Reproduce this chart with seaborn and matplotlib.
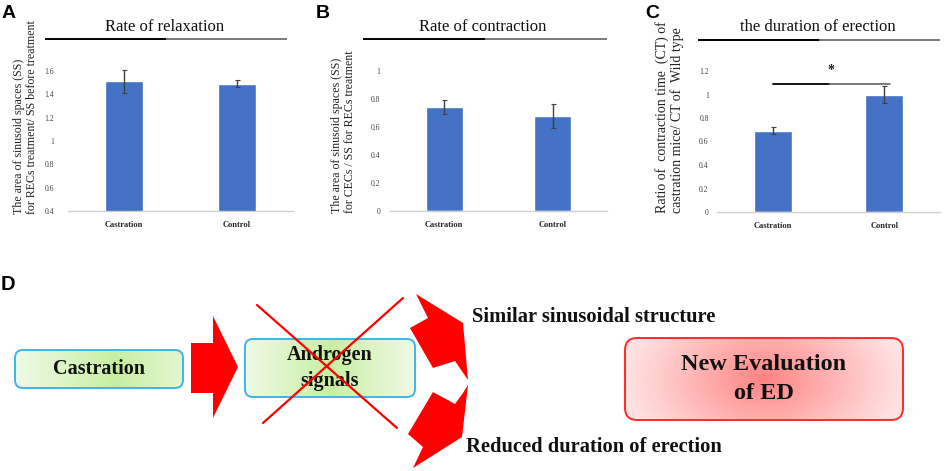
import numpy as np
import pandas as pd
import matplotlib
matplotlib.use("Agg")
import matplotlib.pyplot as plt
import seaborn as sns
from matplotlib.patches import FancyBboxPatch, Polygon

# ---------------- data ----------------
groups = ["Castration", "Control"]

relax_mean = [1.51, 1.49]
relax_err = [0.10, 0.03]

contr_mean = [0.74, 0.68]
contr_err = [0.05, 0.085]

dur_mean = [0.69, 1.00]
dur_err = [0.03, 0.07]

titles = ["Rate of relaxation", "Rate of contraction", "the duration of erection"]
ylabels = [
    "The area of sinusoid spaces (SS)\nfor RECs treatment/ SS before treatment",
    "The area of sinusoid spaces (SS)\nfor CECs / SS for RECs treatment",
    "Ratio of  contraction time  (CT) of\ncastration mice/ CT of  Wild type",
]
yticks_a = [0.4, 0.6, 0.8, 1.0, 1.2, 1.4, 1.6]
yticklabels_a = ["0.4", "0.6", "0.8", "1", "1.2", "1.4", "1.6"]
yticks_b = [0, 0.2, 0.4, 0.6, 0.8, 1.0]
yticklabels_b = ["0", "0.2", "0.4", "0.6", "0.8", "1"]
yticks_c = [0, 0.2, 0.4, 0.6, 0.8, 1.0, 1.2]
yticklabels_c = ["0", "0.2", "0.4", "0.6", "0.8", "1", "1.2"]
sig_level = 1.09
sig_star = 1.20

flow_left = "Castration"
flow_mid = "Androgen\nsignals"
flow_up = "Similar sinusoidal structure"
flow_down = "Reduced duration of erection"
flow_right = "New Evaluation\nof ED"

# ---------------- style ----------------
sns.set_theme(style="white")
plt.rcParams["font.family"] = ["Liberation Serif", "DejaVu Serif"]

BLUE = "#4472C4"
W, H = 948, 471
fig = plt.figure(figsize=(W / 100, H / 100), dpi=100)


def px_axes(x0, x1, ytop, ybot):
    return fig.add_axes([x0 / W, (H - ybot) / H, (x1 - x0) / W, (ybot - ytop) / H])


specs = [
    dict(box=(68, 293, 71, 211), mean=relax_mean, err=relax_err, ylim=(0.4, 1.6),
         ticks=yticks_a, tlabels=yticklabels_a, pad=10, ylab_xy=(-0.19, 0.67), ylab_fs=8.6,
         title_xy=(0.431, 1.314), line=(-0.102, 0.973, 1.229)),
    dict(box=(390, 607, 71, 211), mean=contr_mean, err=contr_err, ylim=(0.0, 1.0),
         ticks=yticks_b, tlabels=yticklabels_b, pad=7, ylab_xy=(-0.215, 0.565), ylab_fs=8.6,
         title_xy=(0.429, 1.314), line=(-0.124, 1.0, 1.229)),
    dict(box=(717, 940, 71, 212), mean=dur_mean, err=dur_err, ylim=(0.0, 1.2),
         ticks=yticks_c, tlabels=yticklabels_c, pad=6, ylab_xy=(-0.213, 0.675), ylab_fs=10,
         title_xy=(0.453, 1.312), line=(-0.085, 1.0, 1.22)),
]

axes = []
for i, s in enumerate(specs):
    ax = px_axes(*s["box"])
    df = pd.DataFrame({"group": groups, "value": s["mean"]})
    sns.barplot(data=df, x="group", y="value", color=BLUE, width=0.34,
                errorbar=None, saturation=1, ax=ax)
    ax.errorbar(range(len(groups)), s["mean"], yerr=s["err"], fmt="none",
                ecolor="#404040", elinewidth=1.0, capsize=1.8, capthick=0.8,
                clip_on=False, zorder=5)
    ax.set_xlim(-0.5, len(groups) - 0.5)
    ax.set_ylim(*s["ylim"])
    ax.set_yticks(s["ticks"])
    ax.set_yticklabels(s["tlabels"])
    ax.tick_params(axis="y", length=0, labelsize=5.5, pad=s["pad"], colors="#404040")
    ax.tick_params(axis="x", length=0, labelsize=6, pad=7)
    for lab in ax.get_xticklabels():
        lab.set_fontweight("bold")
    ax.set_xlabel("")
    ax.set_ylabel(ylabels[i], fontsize=s["ylab_fs"], color="#222222",
                  va="center", ha="center", linespacing=1.15, multialignment="left")
    ax.yaxis.set_label_coords(*s["ylab_xy"])
    for sp in ["top", "right", "left"]:
        ax.spines[sp].set_visible(False)
    ax.spines["bottom"].set_color("#d0d0d0")
    ax.spines["bottom"].set_linewidth(1.0)
    ax.patch.set_alpha(0)
    ax.text(s["title_xy"][0], s["title_xy"][1], titles[i], transform=ax.transAxes,
            ha="center", va="center", fontsize=12, color="#111111")
    lx0, lx1, ly = s["line"]
    mid = (lx0 + lx1) / 2
    ax.plot([lx0, mid], [ly, ly], transform=ax.transAxes, color="black", lw=1.4,
            clip_on=False, solid_capstyle="butt")
    ax.plot([mid, lx1], [ly, ly], transform=ax.transAxes, color="#555555", lw=1.1,
            clip_on=False, solid_capstyle="butt")
    axes.append(ax)

# significance marker on panel C
axc = axes[2]
axc.plot([0, 0.5], [sig_level, sig_level], color="black", lw=1.3, clip_on=False)
axc.plot([0.5, 1.05], [sig_level, sig_level], color="#555555", lw=1.1, clip_on=False)
axc.text(0.52, sig_star, "*", ha="center", va="center", fontsize=10, fontweight="bold",
         color="#222222")

# ---------------- overlay: letters + diagram ----------------
ov = fig.add_axes([0, 0, 1, 1], zorder=-1)
ov.set_axis_off()

for lx, ly, letter, fs in [(2, 13.5, "A", 14), (316, 13.5, "B", 14),
                           (645, 13.5, "C", 14), (1, 284.5, "D", 14.5)]:
    ov.text(lx, ly, letter, ha="left", va="center", fontsize=fs, fontweight="bold",
            family="Liberation Sans", color="black")


def grad_box(x0, y0, w, h, center, edge, ec, cx=0.0, radial=False, rs=8):
    patch = FancyBboxPatch((x0, y0), w, h, boxstyle=f"round,pad=0,rounding_size={rs}",
                           fc="none", ec=ec, lw=1.4, zorder=4)
    ov.add_patch(patch)
    xs = np.linspace(-1, 1, 300)
    ys = np.linspace(-1, 1, 80)
    X, Y = np.meshgrid(xs, ys)
    if radial:
        t = np.clip(np.sqrt(((X - cx) / 1.0) ** 2 + (Y * 0.45) ** 2), 0, 1)
    else:
        t = np.clip(np.abs(X - cx) / (1 + abs(cx)), 0, 1)
    t = t ** 0.9
    c = np.array(matplotlib.colors.to_rgb(center))
    e = np.array(matplotlib.colors.to_rgb(edge))
    img = c[None, None, :] * (1 - t[..., None]) + e[None, None, :] * t[..., None]
    im = ov.imshow(img, extent=(x0, x0 + w, y0 + h, y0), aspect="auto", zorder=3,
                   interpolation="bilinear")
    im.set_clip_path(patch)


GREEN_C, GREEN_E = "#c6efa0", "#eff9e6"
grad_box(15, 350, 168, 38, GREEN_C, GREEN_E, "#3cb6ea", cx=0.2)
grad_box(245, 339, 170, 58, GREEN_C, GREEN_E, "#3cb6ea", cx=0.0)
grad_box(625, 338, 278, 82, "#ff8080", "#ffe2e2", "#ff2a2a", cx=0.0, radial=True, rs=12)

RED = "#ff0000"
# straight block arrow
ov.add_patch(Polygon([(191, 343), (213, 343), (213, 316), (238, 367), (213, 418),
                      (213, 393), (191, 393)], closed=True, fc=RED, ec="none", zorder=4))
# curved (bent) arrows
ov.add_patch(Polygon([(416, 294), (463, 323), (468, 380), (455, 361), (433, 368),
                      (410, 328), (428, 318)], closed=True, fc=RED, ec="none", zorder=4))
ov.add_patch(Polygon([(468, 385), (462, 437), (413, 468), (423, 447), (408, 434),
                      (433, 392), (455, 404), (463, 393)], closed=True, fc=RED, ec="none",
                     zorder=4))

# text
ov.text(99, 369, flow_left, ha="center", va="center", fontsize=14.5, fontweight="bold",
        color="#111111", zorder=6)
ov.text(330, 368, flow_mid, ha="center", va="center", fontsize=14.5, fontweight="bold",
        color="#111111", linespacing=1.35, zorder=6)
ov.text(472, 317, flow_up, ha="left", va="center", fontsize=14.8, fontweight="bold",
        color="#111111", zorder=6)
ov.text(466, 447, flow_down, ha="left", va="center", fontsize=14.8, fontweight="bold",
        color="#111111", zorder=6)
ov.text(764, 379, flow_right, ha="center", va="center", fontsize=17.5, fontweight="bold",
        color="#111111", linespacing=1.55, zorder=6)

# red cross over androgen box
ov.plot([257, 397], [305, 428], color=RED, lw=1.6, zorder=7)
ov.plot([403, 263], [298, 423], color=RED, lw=1.6, zorder=7)

ov.set_xlim(0, W)
ov.set_ylim(H, 0)

fig.savefig("out.png", dpi=100)
